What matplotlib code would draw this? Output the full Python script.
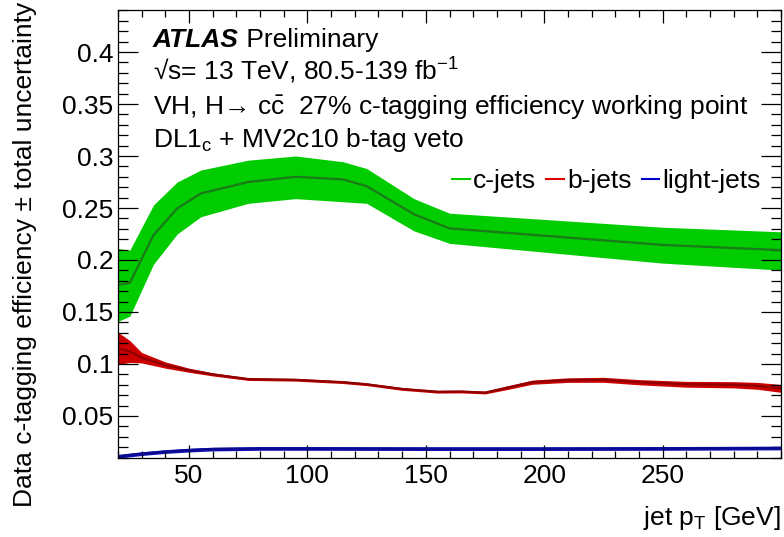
import matplotlib
matplotlib.use("Agg")
import matplotlib.pyplot as plt
from matplotlib.ticker import MultipleLocator
from matplotlib.lines import Line2D

plt.rcParams['font.family'] = ['Liberation Sans', 'DejaVu Sans']
plt.rcParams['mathtext.fontset'] = 'custom'
plt.rcParams['mathtext.rm'] = 'Liberation Sans'
plt.rcParams['mathtext.it'] = 'Liberation Sans:italic'
plt.rcParams['mathtext.bf'] = 'Liberation Sans:bold'

FS = 19

# c-jets efficiency and total uncertainty band
c_pt = [20, 25, 35, 45, 55, 75, 95, 115, 125, 145, 160, 250, 300]
c_eff = [0.176, 0.178, 0.224, 0.2496, 0.264, 0.275, 0.280, 0.2775, 0.271, 0.244, 0.2304, 0.2145, 0.2095]
c_lo = [0.141, 0.146, 0.196, 0.225, 0.2416, 0.2545, 0.259, 0.256, 0.2545, 0.228, 0.216, 0.197, 0.1903]
c_hi = [0.211, 0.2095, 0.253, 0.275, 0.2865, 0.296, 0.300, 0.2945, 0.288, 0.259, 0.245, 0.2315, 0.2271]

# b-jets mistag rate
b_pt = [20, 25, 30, 40, 50, 60, 75, 95, 115, 125, 140, 155, 165, 175, 185, 195, 210, 225, 240, 260, 280, 290, 300]
b_eff = [0.115, 0.112, 0.106, 0.099, 0.094, 0.090, 0.0855, 0.0848, 0.0825, 0.0805, 0.0760, 0.0733, 0.0735,
         0.0725, 0.0775, 0.0825, 0.0845, 0.0848, 0.0825, 0.0805, 0.080, 0.079, 0.0765]
b_err = [0.0155, 0.0105, 0.005, 0.003, 0.002, 0.0015, 0.0013, 0.0013, 0.0013, 0.0013, 0.0013, 0.0013, 0.0013,
         0.0013, 0.0018, 0.002, 0.0022, 0.0024, 0.0025, 0.0028, 0.003, 0.0033, 0.0038]

# light-jets mistag rate
l_pt = [20, 30, 40, 50, 60, 80, 100, 150, 200, 250, 300]
l_eff = [0.0112, 0.0138, 0.0158, 0.0172, 0.0182, 0.0188, 0.0188, 0.0186, 0.0186, 0.0188, 0.0192]
l_err = [0.0018] * len(l_pt)

fig = plt.figure(figsize=(7.84, 5.37), dpi=100)
ax = fig.add_axes([118/784, 1 - 458/537, 663/784, 448/537])

def band(x, lo, hi, fill, line, y):
    ax.fill_between(x, lo, hi, color=fill, lw=0)
    ax.plot(x, y, color=line, lw=1.6)

band(c_pt, c_lo, c_hi, '#00cc00', '#1a7a1a', c_eff)
band(b_pt, [v - e for v, e in zip(b_eff, b_err)], [v + e for v, e in zip(b_eff, b_err)],
     '#cc0000', '#8e0000', b_eff)
band(l_pt, [v - e for v, e in zip(l_eff, l_err)], [v + e for v, e in zip(l_eff, l_err)],
     '#1010b0', '#0a0a90', l_eff)

ax.set_xlim(20, 300)
ax.set_ylim(0.0096, 0.4404)
ax.xaxis.set_minor_locator(MultipleLocator(10))
ax.yaxis.set_minor_locator(MultipleLocator(0.01))
ax.set_yticks([0.05, 0.1, 0.15, 0.2, 0.25, 0.3, 0.35, 0.4])
ax.set_yticklabels(['0.05', '0.1', '0.15', '0.2', '0.25', '0.3', '0.35', '0.4'])
ax.set_xticks([50, 100, 150, 200, 250])

ax.tick_params(which='both', direction='in', top=True, right=True, width=0.9, labelsize=FS)
ax.tick_params(axis='y', which='major', length=14.4, pad=3.5)
ax.tick_params(axis='y', which='minor', length=7.2)
ax.tick_params(axis='x', which='major', length=9.4, pad=4)
ax.tick_params(axis='x', which='minor', length=5)
for s in ax.spines.values():
    s.set_linewidth(0.9)

fig.text(25/784, 1 - 2/537, u'Data c-tagging efficiency \u00b1 total uncertainty',
         rotation=90, ha='center', va='top', fontsize=FS)
fig.text(781/784, 1 - 518/537, r'jet p$_\mathrm{T}$ [GeV]', ha='right', va='center', fontsize=FS)

tx = (153 - 118) / 663
def ytxt(px):
    return 1 - (px - 10) / 448

t = ax.text(tx, ytxt(47), 'ATLAS', transform=ax.transAxes, fontsize=FS,
            fontweight='bold', fontstyle='italic', va='baseline')
ax.annotate(' Preliminary', xycoords=t, xy=(1, 0), va='bottom', fontsize=FS)
ax.text(tx, ytxt(80), u'\u221as= 13 TeV, 80.5-139 fb$^{\\mathrm{-1}}$', transform=ax.transAxes,
        fontsize=FS, va='baseline')
ax.text(tx, ytxt(114), u'VH, H\u2192 c$\\bar{\\mathrm{c}}$  27% c-tagging efficiency working point',
        transform=ax.transAxes, fontsize=FS, va='baseline')
ax.text(tx, ytxt(147), r'DL1$_\mathrm{c}$ + MV2c10 b-tag veto', transform=ax.transAxes,
        fontsize=FS, va='baseline')

handles = [Line2D([], [], color='#00cc00', lw=1.5),
           Line2D([], [], color='#dd0000', lw=1.5),
           Line2D([], [], color='#0000cc', lw=1.5)]
fig.legend(handles, ['c-jets', 'b-jets', 'light-jets'], ncol=3, frameon=False, fontsize=FS,
           loc='center right', bbox_to_anchor=(774/784, 1 - 181/537), borderpad=0,
           handlelength=0.67, handletextpad=0.12, columnspacing=0.38)

fig.savefig('out.png', dpi=100)
